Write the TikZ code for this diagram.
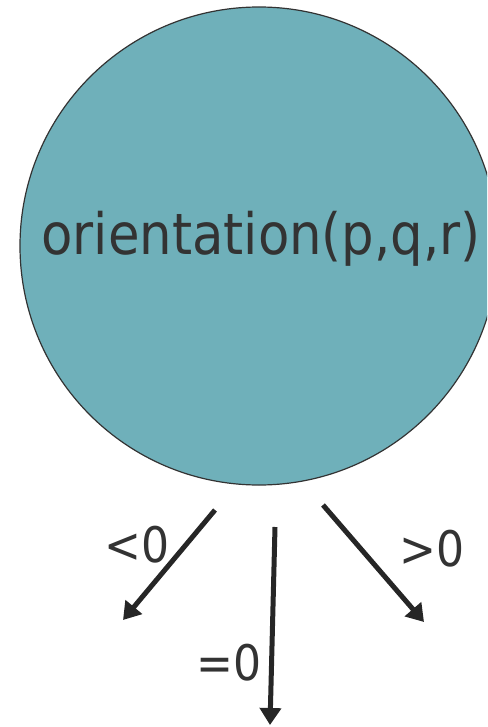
\documentclass[tikz,border=0pt]{standalone}
\usepackage{fontspec}
\setmainfont{DejaVu Sans Condensed}
\usepackage{xcolor}
\usetikzlibrary{arrows.meta}
\definecolor{tealfill}{RGB}{111,176,186}
\definecolor{inkgray}{RGB}{51,51,51}

\begin{document}
\begin{tikzpicture}[x=1pt, y=-1pt,
  circ/.style={circle, draw=inkgray, line width=1.2pt, fill=tealfill,
               minimum size=478pt, inner sep=0pt},
  txt/.style={text=inkgray, font=\fontsize{57}{60}\selectfont, inner sep=0pt},
  lbl/.style={text=inkgray, font=\fontsize{49}{52}\selectfont, inner sep=0pt},
  arr/.style={-{Triangle[length=17pt, width=21pt]}, line width=5pt, color=black!85}
]
  \useasboundingbox (0,0) rectangle (487,727);
  \begin{scope}
    \clip (0,0) rectangle (487,727);

    % Test node
    \node[circ] (orient) at (259,246) {};
    \node[txt] (otext) at (261,239) {orientation(p,q,r)};

    % Arrow ends
    \coordinate (ls) at (215,510);
    \coordinate (le) at (123,620);
    \coordinate (ms) at (275,527);
    \coordinate (me) at (270,725);
    \coordinate (rs) at (323,505);
    \coordinate (re) at (424,622);

    % Branches
    \draw[arr] (ls) -- (le);
    \draw[arr] (ms) -- (me);
    \draw[arr] (rs) -- (re);

    % Labels
    \node[lbl] (neg)  at (137,545) {<0};
    \node[lbl] (zero) at (229,663) {=0};
    \node[lbl] (pos)  at (432,549) {>0};
  \end{scope}
\end{tikzpicture}
\end{document}
